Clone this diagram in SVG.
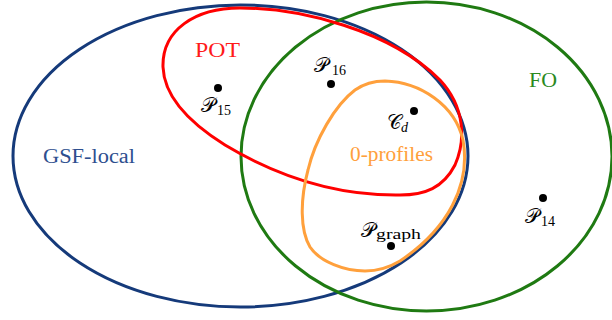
<svg xmlns="http://www.w3.org/2000/svg" width="612" height="320" viewBox="0 0 612 320">
<style>
.set{fill:none;stroke-width:3}
.lbl{font-family:"Liberation Serif","DejaVu Serif",serif;font-size:20px}
.m{font-family:"DejaVu Serif","Noto Sans",serif;font-size:20px;fill:#000}
.sub{font-family:"Liberation Serif","DejaVu Serif",serif;font-size:14px}
.dot{fill:#000}
</style>
<rect width="612" height="320" fill="#fff"/>
<g id="connectors"/>
<g id="gsf">
<ellipse class="set" cx="240.5" cy="156" rx="227.5" ry="151" stroke="#153a7a"/>
<text class="lbl" x="43" y="163" fill="#2e4f8f" textLength="92" lengthAdjust="spacingAndGlyphs">GSF-local</text>
</g>
<g id="fo">
<ellipse class="set" cx="426.5" cy="156.5" rx="185.5" ry="154.5" stroke="#1f7a12"/>
<text class="lbl" x="529" y="87" fill="#2a8a1e" textLength="28" lengthAdjust="spacingAndGlyphs">FO</text>
</g>
<g id="pot">
<path class="set" stroke="#ff0000" d="M400,195 C330,196 270,172 225,145 C185,120 164,95 163,67 C162,30 195,8 240,8 C300,8 390,30 440,80 C465,107 466,140 455,165 C443,188 425,195 400,195 Z"/>
<text class="lbl" x="195" y="57" fill="#ff1a1a" textLength="45" lengthAdjust="spacingAndGlyphs">POT</text>
</g>
<g id="zero">
<path class="set" stroke="#ffa03c" d="M463,140 A224 147.5 0 0 1 400,261 C390,267 380,271 365,271 C345,271 320,262 310,247 C300,230 300,200 308,170 C315,140 335,105 355,90 C365,83 375,81 385,81 C420,82 455,105 463,140 Z"/>
<text class="lbl" x="350" y="161" fill="#ffa03c" textLength="83" lengthAdjust="spacingAndGlyphs">0-profiles</text>
</g>
<g id="p15"><circle class="dot" cx="218" cy="88" r="4"/><text class="m" x="201" y="112">𝒫</text><text class="sub" x="217" y="115">15</text></g>
<g id="p16"><circle class="dot" cx="331" cy="84" r="4"/><text class="m" x="314" y="72">𝒫</text><text class="sub" x="332" y="75">16</text></g>
<g id="cd"><circle class="dot" cx="414" cy="111" r="4"/><text class="m" x="387" y="129">𝒞</text><text class="sub" x="401" y="132" font-style="italic">d</text></g>
<g id="pgraph"><circle class="dot" cx="391" cy="246" r="4"/><text class="m" x="361" y="237">𝒫</text><text class="sub" x="376" y="239" textLength="45" lengthAdjust="spacingAndGlyphs">graph</text></g>
<g id="p14"><circle class="dot" cx="543" cy="198" r="4"/><text class="m" x="525" y="223">𝒫</text><text class="sub" x="541" y="226">14</text></g>
</svg>
